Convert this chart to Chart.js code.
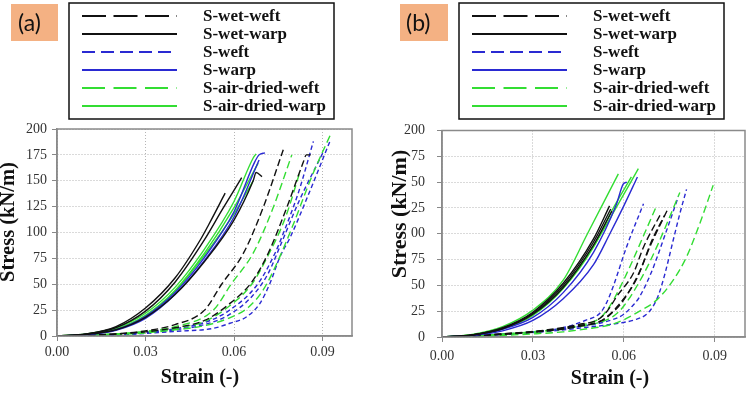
<!DOCTYPE html>
<html lang="en">
<head>
  <meta charset="UTF-8">
  <title>Stress-strain curves (a) and (b)</title>
  <script src="https://cdn.jsdelivr.net/npm/chart.js"></script>
  <style>
    html, body {
      margin: 0;
      background: #fff;
    }
    #wrap {
      position: relative;
      width: 750px;
      height: 393px;
    }
    .panel {
      position: absolute;
      top: 0;
      width: 375px;
      height: 393px;
    }
    #panelA { left: 0; }
    #panelB { left: 375px; }
  </style>
</head>
<body>
  <div id="wrap">
    <div class="panel" id="panelA"><canvas id="chartA"></canvas></div>
    <div class="panel" id="panelB"><canvas id="chartB"></canvas></div>
  </div>
  <script>
    // legend order
    const seriesNames = ['S-wet-weft', 'S-wet-warp', 'S-weft', 'S-warp', 'S-air-dried-weft', 'S-air-dried-warp'];

    const xTicks = [0, 0.03, 0.06, 0.09];
    const yTicksA = ['0', '25', '50', '75', '100', '125', '150', '175', '200'];
    const yTicksB = ['0', '25', '50', '75', '00', '25', '50', '75', '200']; // cut off in the source figure

    // ---- panel (a): [strain, stress] ----
    const aWetWeft1 = [[0,0],[0.01,0.5],[0.02,2],[0.03,5],[0.04,11],[0.05,25],[0.0558,50],[0.0632,80],[0.07,125],[0.0767,180]];
    const aWetWeft2 = [[0,0],[0.02,2],[0.03,4],[0.04,8],[0.05,15],[0.058,30],[0.066,52],[0.0716,80],[0.078,125],[0.0835,168],[0.0845,175],[0.0868,175]];
    const aWetWarp1 = [[0,0],[0.01,2],[0.02,9],[0.03,27],[0.04,56],[0.0486,93],[0.0515,108],[0.057,138]];
    const aWetWarp2 = [[0,0],[0.01,2],[0.02,8],[0.03,24],[0.04,52],[0.05,93],[0.056,122],[0.0626,153]];
    const aWetWarp3 = [[0,0],[0.01,1.5],[0.02,6],[0.03,18],[0.04,40],[0.05,72],[0.06,112],[0.0665,150],[0.0675,158],[0.0695,154]];
    const aWeft1 = [[0,0],[0.02,1.5],[0.03,3.5],[0.04,7],[0.05,13],[0.058,24],[0.068,50],[0.0739,80],[0.0771,102],[0.082,140],[0.0869,188]];
    const aWeft2 = [[0,0],[0.02,1.5],[0.03,3],[0.04,6],[0.05,11],[0.058,20],[0.066,38],[0.0715,60],[0.0761,90],[0.082,130],[0.0903,178]];
    const aWeft3 = [[0,0],[0.02,1],[0.03,2.5],[0.04,4.5],[0.053,7.4],[0.0586,12.3],[0.0643,18.6],[0.0688,31.6],[0.0722,51],[0.0756,76.6],[0.079,95],[0.085,135],[0.0925,188]];
    const aWarp1 = [[0,0],[0.01,1.5],[0.02,6],[0.03,19],[0.04,42],[0.05,76],[0.06,120],[0.067,168],[0.0685,175],[0.0705,177]];
    const aWarp2 = [[0,0],[0.01,1.2],[0.02,5.5],[0.03,17],[0.04,40],[0.05,73],[0.06,115],[0.0685,170]];
    const aAirWeft1 = [[0,0],[0.01,0.5],[0.02,2],[0.03,4.5],[0.04,9],[0.053,25],[0.059,50],[0.0665,80],[0.073,122],[0.0796,175]];
    const aAirWeft2 = [[0,0],[0.02,2],[0.03,4],[0.04,7.5],[0.05,14],[0.058,28],[0.066,50],[0.0716,78],[0.0775,115],[0.0825,160]];
    const aAirWeft3 = [[0,0],[0.02,1.5],[0.03,3],[0.04,6],[0.05,10],[0.058,17],[0.065,28],[0.07,45],[0.0745,70],[0.0797,105],[0.0865,155],[0.0931,197]];
    const aAirWarp1 = [[0,0],[0.01,2],[0.02,8],[0.03,22],[0.04,47],[0.05,84],[0.06,130],[0.0665,172],[0.0675,176]];
    const aAirWarp2 = [[0,0],[0.01,1.8],[0.02,7],[0.03,20],[0.04,44],[0.05,80],[0.06,124],[0.0682,167]];
    const aAirWarp3 = [[0,0],[0.01,1.5],[0.02,6.5],[0.03,19],[0.04,43],[0.05,78],[0.06,118],[0.0665,150]];

    // ---- panel (b) ----
    const bWetWeft1 = [[0,0],[0.02,3],[0.035,7],[0.045,12],[0.0521,18],[0.055,27],[0.0576,39],[0.0632,62],[0.0665,87],[0.0725,121]];
    const bWetWeft2 = [[0,0],[0.02,3],[0.035,6.5],[0.045,11],[0.052,15],[0.055,21],[0.058,30],[0.064,55],[0.069,90],[0.0747,125]];
    const bWetWeft3 = [[0,0],[0.02,2.5],[0.035,6],[0.045,10],[0.053,16],[0.056,23],[0.059,32],[0.065,62],[0.0695,95],[0.0735,118]];
    const bWetWarp1 = [[0,0],[0.01,2],[0.02,9],[0.03,24],[0.04,52],[0.05,95],[0.0553,127]];
    const bWetWarp2 = [[0,0],[0.01,2],[0.02,8.5],[0.03,23],[0.04,50],[0.05,92],[0.0557,124]];
    const bWetWarp3 = [[0,0],[0.01,2],[0.02,8],[0.03,22],[0.04,48],[0.05,89],[0.0561,122]];
    const bWeft1 = [[0,0],[0.015,2],[0.03,5],[0.04,9],[0.0472,16],[0.0521,23],[0.0543,33],[0.0565,49],[0.061,88],[0.0665,129]];
    const bWeft2 = [[0,0],[0.02,2.5],[0.035,5.5],[0.045,8.5],[0.055,12],[0.064,17],[0.0675,22],[0.0695,29],[0.0715,41],[0.0736,61.5],[0.0763,93.7],[0.0785,119.5],[0.0807,143]];
    const bWeft3 = [[0,0],[0.02,2.5],[0.035,6],[0.045,10],[0.053,14],[0.06,22],[0.0625,29],[0.065,38],[0.069,62],[0.0735,98],[0.078,136]];
    const bWarp1 = [[0,0],[0.01,1.8],[0.02,7.5],[0.03,19],[0.04,43],[0.05,82],[0.0575,128],[0.0598,148],[0.061,150]];
    const bWarp2 = [[0,0],[0.01,1.5],[0.02,6],[0.03,16],[0.04,37],[0.05,70],[0.0554,100],[0.06,127],[0.0645,155]];
    const bAirWeft1 = [[0,0],[0.02,3],[0.035,6.5],[0.045,11],[0.052,18],[0.0545,26],[0.057,38],[0.062,68],[0.0665,98],[0.0708,127]];
    const bAirWeft2 = [[0,0],[0.02,2.5],[0.035,6],[0.045,10],[0.053,15],[0.057,21],[0.06,30],[0.066,58],[0.071,88],[0.0785,140]];
    const bAirWeft3 = [[0,0],[0.015,1],[0.03,3],[0.04,5],[0.048,8],[0.0554,11.6],[0.0598,16.4],[0.0648,24.4],[0.0708,35.7],[0.0763,55],[0.0807,77.6],[0.0851,110],[0.0895,147]];
    const bAirWarp1 = [[0,0],[0.01,2.5],[0.02,10],[0.03,26],[0.04,55],[0.048,100],[0.0582,158]];
    const bAirWarp2 = [[0,0],[0.01,2],[0.02,8.5],[0.03,22],[0.04,48],[0.05,88],[0.058,128],[0.0648,163]];
    const bAirWarp3 = [[0,0],[0.01,2],[0.02,8],[0.03,21],[0.04,47],[0.05,87],[0.056,122],[0.0625,155]];

    // line look per series type (same order as seriesNames)
    const BLACK = '#111111', BLUE = '#2a2ad2', GREEN = '#33dd33';
    const styles = [
      { color: BLACK, dash: [7, 3.5], legendDash: [24, 7.5] },
      { color: BLACK, dash: [],       legendDash: [] },
      { color: BLUE,  dash: [4.5, 3], legendDash: [13, 6] },
      { color: BLUE,  dash: [],       legendDash: [] },
      { color: GREEN, dash: [7.5, 4], legendDash: [23, 8.5] },
      { color: GREEN, dash: [],       legendDash: [] }
    ];

    function makeSets(groups) {
      const sets = [];
      groups.forEach(([type, curves]) => {
        curves.forEach(c => {
          sets.push({
            label: seriesNames[type],
            data: c.map(p => ({ x: p[0], y: p[1] })),
            borderColor: styles[type].color,
            borderDash: styles[type].dash,
            borderWidth: 1.4,
            pointRadius: 0,
            fill: false,
            cubicInterpolationMode: 'monotone'
          });
        });
      });
      return sets;
    }

    const serif = "'Liberation Serif', 'Times New Roman', serif";

    // tag box, boxed legend, plot frame and axis titles
    const panelDecor = {
      id: 'panelDecor',
      afterDraw(chart, args, o) {
        const ctx = chart.ctx;
        const ca = chart.chartArea;
        ctx.save();
        // frame round the plot area
        ctx.strokeStyle = '#8a8a8a';
        ctx.lineWidth = 1.5;
        ctx.setLineDash([]);
        ctx.strokeRect(ca.left, ca.top, ca.right - ca.left, ca.bottom - ca.top);

        // (a)/(b) tag
        ctx.fillStyle = '#f4b183';
        ctx.fillRect(o.tagBox[0], o.tagBox[1], o.tagBox[2], o.tagBox[3]);
        ctx.fillStyle = '#111';
        ctx.font = "23px Lato, 'Open Sans', sans-serif";
        ctx.textAlign = 'left';
        ctx.textBaseline = 'middle';
        ctx.fillText(o.tag, o.tagTextX, o.tagBox[1] + o.tagBox[3] / 2 + 1);

        // legend box
        ctx.strokeStyle = '#111';
        ctx.lineWidth = 1.5;
        ctx.strokeRect(o.legendBox[0], o.legendBox[1], o.legendBox[2], o.legendBox[3]);
        ctx.font = 'bold 17px ' + serif;
        seriesNames.forEach((name, i) => {
          const y = o.rowY[i];
          ctx.strokeStyle = styles[i].color;
          ctx.lineWidth = 2;
          ctx.setLineDash(styles[i].legendDash);
          ctx.beginPath();
          ctx.moveTo(o.lineX[0], y);
          ctx.lineTo(o.lineX[1], y);
          ctx.stroke();
          ctx.setLineDash([]);
          ctx.fillStyle = '#111';
          ctx.fillText(name, o.textX, y + 1);
        });

        // axis titles
        ctx.fillStyle = '#111';
        ctx.textAlign = 'center';
        ctx.font = 'bold ' + o.xTitle.size + 'px ' + serif;
        ctx.fillText(o.xTitle.text, o.xTitle.x, o.xTitle.y);
        ctx.translate(o.yTitle.x, o.yTitle.y);
        ctx.rotate(-Math.PI / 2);
        ctx.font = 'bold ' + o.yTitle.size + 'px ' + serif;
        ctx.fillText(o.yTitle.text, 0, 0);
        ctx.restore();
      }
    };

    function makeOptions(p) {
      return {
        responsive: true,
        maintainAspectRatio: false,
        animation: false,
        layout: { padding: p.padding },
        plugins: {
          legend: { display: false },
          tooltip: { enabled: false },
          panelDecor: p.decor
        },
        scales: {
          x: {
            type: 'linear',
            min: 0,
            max: 0.1,
            afterBuildTicks: s => { s.ticks = xTicks.map(v => ({ value: v })); },
            afterFit: s => { s.height = p.xHeight; },
            ticks: {
              color: '#333',
              font: { family: serif, size: 14 },
              padding: p.xPad,
              maxRotation: 0,
              callback: v => v.toFixed(2)
            },
            grid: { color: '#b5b5b5', tickColor: '#888', tickLength: 5, lineWidth: 1 },
            border: { display: true, color: '#8a8a8a', width: 1.5, dash: [1, 2] }
          },
          y: {
            min: 0,
            max: 200,
            afterFit: s => { s.width = p.yWidth; },
            ticks: {
              stepSize: 25,
              color: '#333',
              font: { family: serif, size: 14 },
              padding: p.yPad,
              callback: (v, i) => p.yLabels[i]
            },
            grid: { color: '#b5b5b5', tickColor: '#888', tickLength: 5, lineWidth: 1 },
            border: { display: true, color: '#8a8a8a', width: 1.5, dash: [1, 2] }
          }
        }
      };
    }

    new Chart(document.getElementById('chartA'), {
      type: 'line',
      data: {
        datasets: makeSets([
          [1, [aWetWarp1, aWetWarp2, aWetWarp3]],
          [3, [aWarp1, aWarp2]],
          [5, [aAirWarp1, aAirWarp2, aAirWarp3]],
          [0, [aWetWeft1, aWetWeft2]],
          [4, [aAirWeft1, aAirWeft2, aAirWeft3]],
          [2, [aWeft1, aWeft2, aWeft3]]
        ])
      },
      plugins: [panelDecor],
      options: makeOptions({
        padding: { left: 0, right: 23, top: 129, bottom: 0 },
        xHeight: 57, yWidth: 57, xPad: 3, yPad: 5,
        yLabels: yTicksA,
        decor: {
          tag: '(a)', tagBox: [11, 4, 47, 37], tagTextX: 18,
          legendBox: [69, 3, 265, 116], lineX: [82, 177], textX: 203,
          rowY: [16, 34, 52, 70, 88, 106],
          xTitle: { text: 'Strain (-)', x: 200, y: 378, size: 20 },
          yTitle: { text: 'Stress (kN/m)', x: 9, y: 222, size: 20.5 }
        }
      })
    });

    new Chart(document.getElementById('chartB'), {
      type: 'line',
      data: {
        datasets: makeSets([
          [1, [bWetWarp1, bWetWarp2, bWetWarp3]],
          [3, [bWarp1, bWarp2]],
          [5, [bAirWarp1, bAirWarp2, bAirWarp3]],
          [0, [bWetWeft1, bWetWeft2, bWetWeft3]],
          [4, [bAirWeft1, bAirWeft2, bAirWeft3]],
          [2, [bWeft1, bWeft2, bWeft3]]
        ])
      },
      plugins: [panelDecor],
      options: makeOptions({
        padding: { left: 0, right: 5, top: 130.5, bottom: 0 },
        xHeight: 56, yWidth: 67, xPad: 6, yPad: 12,
        yLabels: yTicksB,
        decor: {
          tag: '(b)', tagBox: [25, 4, 48, 37], tagTextX: 31,
          legendBox: [84, 3, 265, 116], lineX: [97, 192], textX: 218,
          rowY: [16, 34, 52, 70, 88, 106],
          xTitle: { text: 'Strain (-)', x: 235, y: 379, size: 20 },
          yTitle: { text: 'Stress (kN/m)', x: 25.5, y: 214, size: 22 }
        }
      })
    });
  </script>
</body>
</html>
